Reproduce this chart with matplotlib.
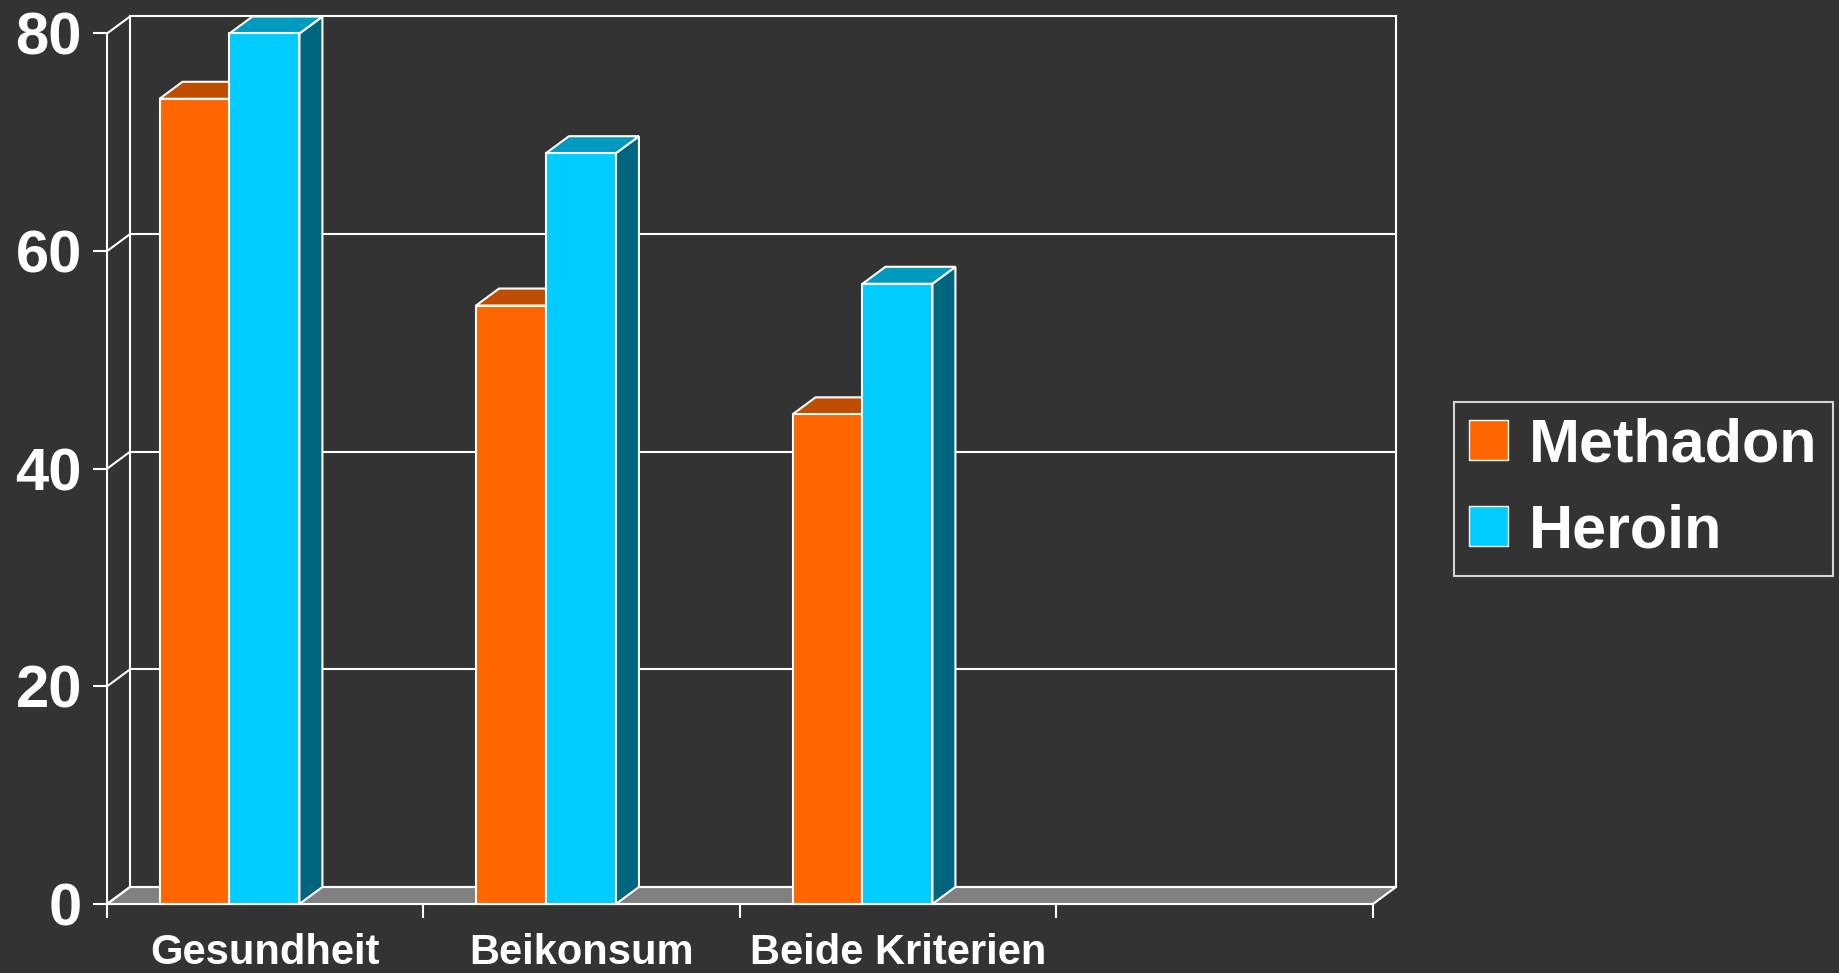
import matplotlib
matplotlib.use("Agg")
import matplotlib.pyplot as plt
from matplotlib.patches import Polygon, Patch

# ---- data -------------------------------------------------------------
categories = ["Gesundheit", "Beikonsum", "Beide Kriterien"]
series_names = ["Methadon", "Heroin"]
methadon = [74, 55, 45]
heroin = [80, 69, 57]
y_ticks = [0, 20, 40, 60, 80]
n_slots = 4  # category slots along the floor (last one stays empty)

# ---- style ------------------------------------------------------------
BG = "#333333"
FLOOR = "#808080"
EDGE = "white"
LW = 1.5
front_colors = ["#FF6600", "#00CCFF"]
top_colors = ["#BF4D00", "#009ABF"]
side_colors = ["#803300", "#006680"]

bar_start = 0.166   # offset of the first bar inside its slot
bar_width = 0.221

plt.rcParams["font.family"] = ["Liberation Sans", "DejaVu Sans"]
plt.rcParams["font.weight"] = "bold"

W, H, DPI = 1840, 973, 100
fig = plt.figure(figsize=(W / DPI, H / DPI), dpi=DPI, facecolor=BG)
ax_w_px, ax_h_px = 1266, 870.5
ax = fig.add_axes([107 / W, 69 / H, ax_w_px / W, ax_h_px / H])
ax.set_facecolor("none")
ax.set_xlim(0, n_slots)
ax.set_ylim(y_ticks[0], y_ticks[-1])

# depth of the pseudo-3D box, given in pixels and converted to data units
depth_px = (23, 17)
DX = depth_px[0] * n_slots / ax_w_px
DY = depth_px[1] * (y_ticks[-1] - y_ticks[0]) / ax_h_px
ymax = y_ticks[-1]

# floor
ax.add_patch(Polygon([(0, 0), (n_slots, 0), (n_slots + DX, DY), (DX, DY)],
                     closed=True, facecolor=FLOOR, edgecolor=EDGE, lw=LW,
                     clip_on=False, zorder=1))

# back wall grid, left side wall and outline
for v in y_ticks:
    ax.plot([DX, n_slots + DX], [v + DY, v + DY], color=EDGE, lw=LW,
            clip_on=False, zorder=1.2)
    ax.plot([0, DX], [v, v + DY], color=EDGE, lw=LW, clip_on=False, zorder=1.2)
ax.plot([DX, DX], [DY, ymax + DY], color=EDGE, lw=LW, clip_on=False, zorder=1.2)
ax.plot([n_slots + DX, n_slots + DX], [DY, ymax + DY], color=EDGE, lw=LW,
        clip_on=False, zorder=1.2)

# bars
series = [methadon, heroin]
z = 3
for i in range(len(categories)):
    for s, values in enumerate(series):
        v = values[i]
        x0 = i + bar_start + s * bar_width
        x1 = x0 + bar_width
        ax.add_patch(Polygon([(x1, 0), (x1 + DX, DY), (x1 + DX, v + DY), (x1, v)],
                             closed=True, facecolor=side_colors[s], edgecolor=EDGE,
                             lw=LW, clip_on=False, zorder=z))
        ax.add_patch(Polygon([(x0, v), (x1, v), (x1 + DX, v + DY), (x0 + DX, v + DY)],
                             closed=True, facecolor=top_colors[s], edgecolor=EDGE,
                             lw=LW, clip_on=False, zorder=z + 0.1))
        ax.bar(x0, v, width=bar_width, align="edge", color=front_colors[s],
               edgecolor=EDGE, linewidth=LW, zorder=z + 0.2, clip_on=False)
        z += 1

# axes
for side in ("top", "right"):
    ax.spines[side].set_visible(False)
for side in ("left", "bottom"):
    ax.spines[side].set_color(EDGE)
    ax.spines[side].set_linewidth(LW)
    ax.spines[side].set_zorder(2)

ax.set_yticks(y_ticks)
ax.set_yticklabels([str(t) for t in y_ticks])
ax.tick_params(axis="y", colors=EDGE, length=10, width=LW, pad=8,
               labelsize=43, labelcolor="white")

ax.set_xticks(range(n_slots + 1))
ax.set_xticklabels([])
ax.set_xticks([i + 0.5 for i in range(len(categories))], minor=True)
ax.set_xticklabels(categories, minor=True)
ax.tick_params(axis="x", which="major", colors=EDGE, length=10, width=LW)
ax.tick_params(axis="x", which="minor", length=0, pad=21, labelsize=30,
               labelcolor="white")
for lab in ax.get_xticklabels(minor=True) + ax.get_yticklabels():
    lab.set_fontweight("bold")

# legend
handles = [Patch(facecolor=c, edgecolor=EDGE, linewidth=1.0) for c in front_colors]
leg = fig.legend(handles, series_names, loc="upper left",
                 bbox_to_anchor=(1454 / W, 1 - 402 / H), borderaxespad=0,
                 frameon=True, fancybox=False,
                 handlelength=0.64, handleheight=0.64, handletextpad=0.34,
                 labelspacing=0.48, borderpad=0.25,
                 prop={"weight": "bold", "size": 44})
leg.get_frame().set_facecolor(BG)
leg.get_frame().set_edgecolor(EDGE)
leg.get_frame().set_linewidth(LW)
for t in leg.get_texts():
    t.set_color("white")

fig.savefig("out.png", dpi=DPI, facecolor=BG)
